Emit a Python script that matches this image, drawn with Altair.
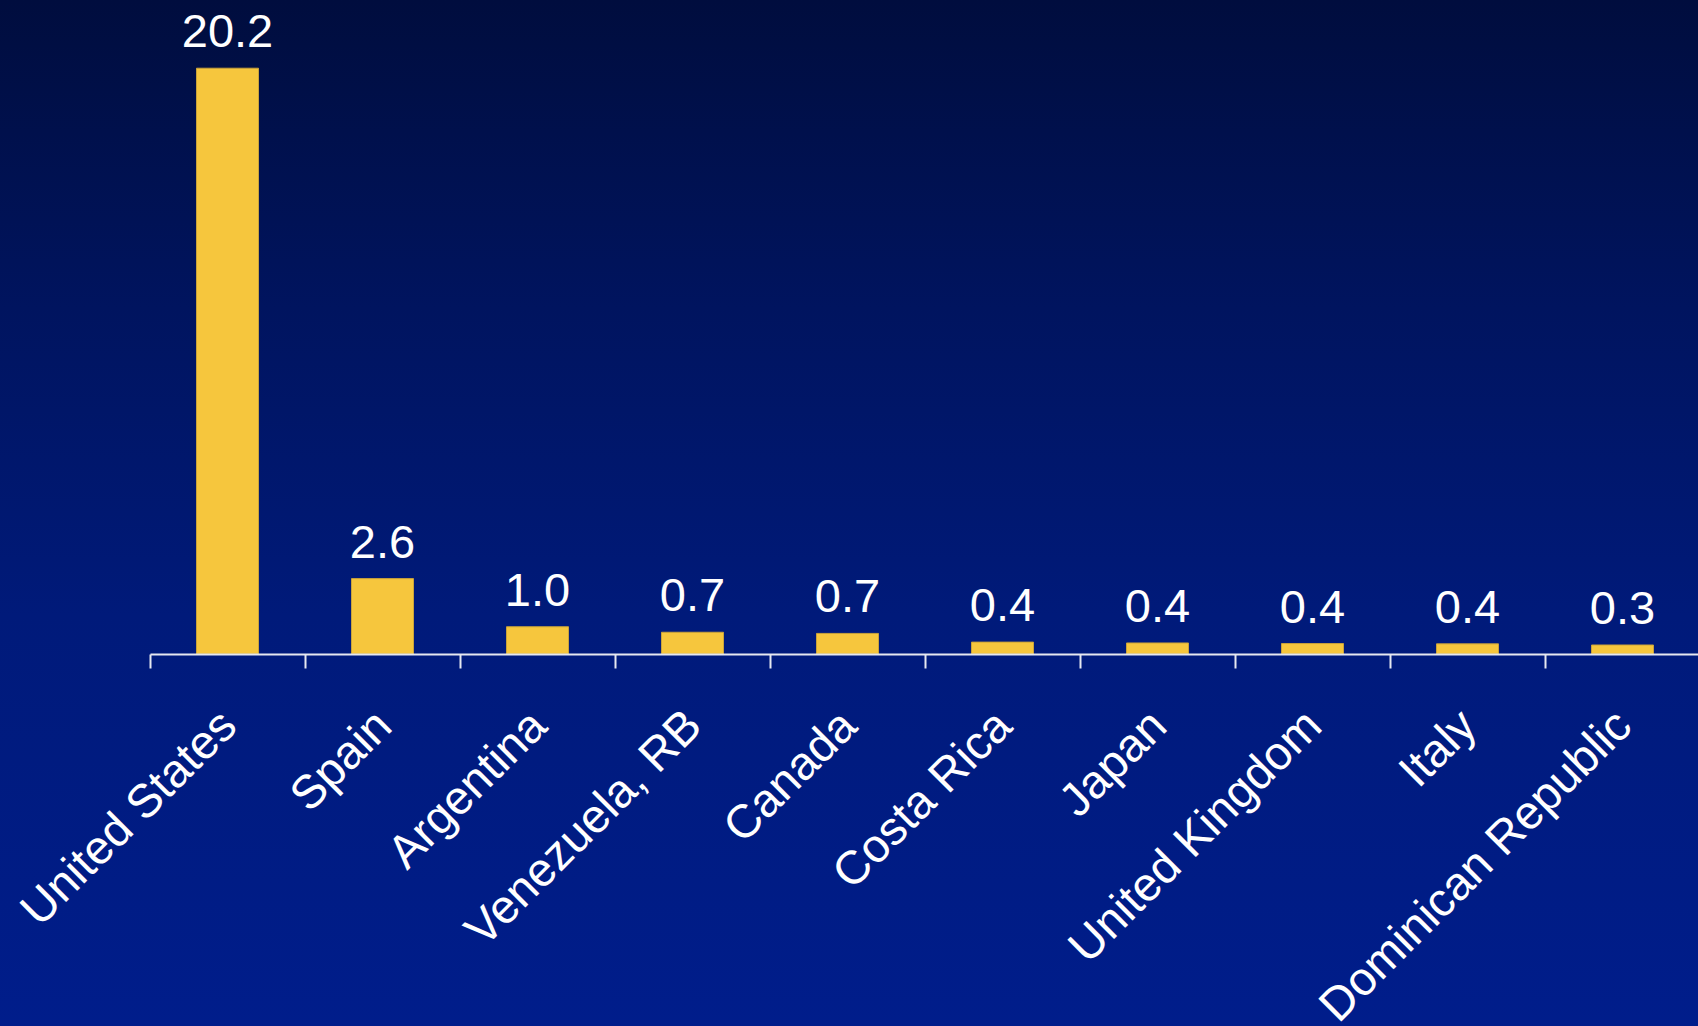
import altair as alt
import pandas as pd

countries = ["United States", "Spain", "Argentina", "Venezuela, RB", "Canada",
             "Costa Rica", "Japan", "United Kingdom", "Italy", "Dominican Republic"]
values = [20.2, 2.6, 0.94, 0.75, 0.71, 0.41, 0.38, 0.36, 0.35, 0.31]
labels = ["20.2", "2.6", "1.0", "0.7", "0.7", "0.4", "0.4", "0.4", "0.4", "0.3"]

df = pd.DataFrame({"country": countries, "value": values, "label": labels})

W, H = 1698, 1026
AXIS_Y = 654
STEP = 155
FONT = "Liberation Sans"

x_scale = alt.Scale(domain=countries, range=[150, 150 + STEP * len(countries)],
                    paddingInner=0.6, paddingOuter=0.3)
y_scale = alt.Scale(domain=[0, 22.552], range=[AXIS_Y, 0], zero=False, nice=False)

bg = alt.Chart(pd.DataFrame({"a": [0]})).mark_rect(
    fill=alt.Gradient(
        gradient="linear",
        stops=[
            alt.GradientStop(color="#000d3e", offset=0),
            alt.GradientStop(color="#00145f", offset=0.3),
            alt.GradientStop(color="#001a7a", offset=0.6),
            alt.GradientStop(color="#001d8b", offset=1),
        ],
        x1=0, x2=0, y1=0, y2=1,
    )
).encode(x=alt.value(0), x2=alt.value(W), y=alt.value(0), y2=alt.value(H))

bars = alt.Chart(df).mark_bar(color="#f6c63d", stroke="#c9a23a", strokeWidth=1).encode(
    x=alt.X("country:N", scale=x_scale, sort=countries,
            axis=alt.Axis(title=None, labelAngle=-45, labelAlign="right", labelBaseline="top",
                          labelFont=FONT, labelFontSize=47, labelColor="white",
                          labelPadding=34, ticks=True, tickSize=14,
                          tickOffset=-STEP / 2, labelOffset=STEP / 2 - 15,
                          tickWidth=2, tickColor="#e6e8f0", domainColor="#e6e8f0",
                          domainWidth=2, offset=-(H - AXIS_Y), labelOverlap=False,
                          labelLimit=0, zindex=1)),
    y=alt.Y("value:Q", scale=y_scale, axis=None),
    y2=alt.datum(0),
)

text = alt.Chart(df).mark_text(
    font=FONT, fontSize=47, color="white", baseline="alphabetic", align="center", dy=-21
).encode(
    x=alt.X("country:N", scale=x_scale, sort=countries),
    y=alt.Y("value:Q", scale=y_scale),
    text="label:N",
)

chart = alt.layer(bg, bars, text).properties(
    width=W, height=H, padding=0, autosize=alt.AutoSizeParams(type="none")
).configure_view(stroke=None).configure(background="#001d8b")

chart.save("out.html", embed_options={"renderer": "svg", "actions": False})
